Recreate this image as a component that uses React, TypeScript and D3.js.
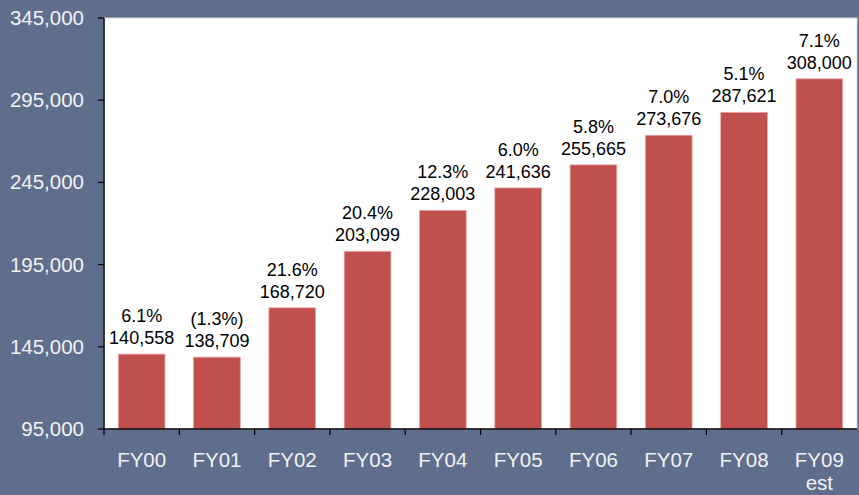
import React from "react";
import * as d3 from "d3";

const categories = ["FY00", "FY01", "FY02", "FY03", "FY04", "FY05", "FY06", "FY07", "FY08", "FY09"];
const subLabels = ["", "", "", "", "", "", "", "", "", "est"];
const values = [140558, 138709, 168720, 203099, 228003, 241636, 255665, 273676, 287621, 308000];
const growth = ["6.1%", "(1.3%)", "21.6%", "20.4%", "12.3%", "6.0%", "5.8%", "7.0%", "5.1%", "7.1%"];
const yTicks = [95000, 145000, 195000, 245000, 295000, 345000];

const W = 859, H = 495;
const plot = { left: 104, right: 857, top: 18, bottom: 429 };
const font = "'Liberation Sans', Arial, sans-serif";

export default function App() {
  const x = d3.scaleBand<string>().domain(categories).range([plot.left, plot.right]).paddingInner(0.38).paddingOuter(0.19);
  const band = d3.scaleBand<string>().domain(categories).range([plot.left, plot.right]);
  const y = d3.scaleLinear().domain([95000, 345000]).range([plot.bottom, plot.top]);
  const fmt = d3.format(",");
  return (
    <svg width={W} height={H} style={{ position: "absolute", left: 0, top: 0, display: "block" }} fontFamily={font}>
      <rect x={0} y={0} width={W} height={H} fill="#5f6e8c" />
      <rect x={plot.left} y={plot.top} width={plot.right - plot.left} height={plot.bottom - plot.top} fill="#ffffff" stroke="#d8d8d8" strokeWidth={1} />
      {values.map((v, i) => {
        const c = categories[i];
        const bx = x(c)!;
        const by = y(v);
        const cx = bx + x.bandwidth() / 2;
        return (
          <g key={c}>
            <rect x={bx} y={by} width={x.bandwidth()} height={plot.bottom - by} fill="#c0504d" stroke="#e8a8a6" strokeWidth={0.8} />
            <text x={cx} y={by - 32} textAnchor="middle" fontSize={18} fill="#000">{growth[i]}</text>
            <text x={cx} y={by - 10} textAnchor="middle" fontSize={18} fill="#000">{fmt(v)}</text>
          </g>
        );
      })}
      <line x1={plot.left} x2={plot.left} y1={plot.top} y2={plot.bottom} stroke="#000" strokeWidth={1.5} />
      <line x1={plot.left} x2={plot.right} y1={plot.bottom} y2={plot.bottom} stroke="#000" strokeWidth={1.5} />
      {yTicks.map((t) => (
        <g key={t}>
          <line x1={plot.left - 6} x2={plot.left} y1={y(t)} y2={y(t)} stroke="#000" strokeWidth={1.2} />
          <text x={84} y={y(t) + 7} textAnchor="end" fontSize={20.5} fill="#f2f2f2">{fmt(t)}</text>
        </g>
      ))}
      {categories.map((c, i) => (
        <g key={c}>
          <line x1={band(c)!} x2={band(c)!} y1={plot.bottom} y2={plot.bottom + 6} stroke="#000" strokeWidth={1.2} />
          <text x={band(c)! + band.bandwidth() / 2} y={467} textAnchor="middle" fontSize={20.5} fill="#f2f2f2">{c}</text>
          {subLabels[i] && (
            <text x={band(c)! + band.bandwidth() / 2} y={490} textAnchor="middle" fontSize={20.5} fill="#f2f2f2">{subLabels[i]}</text>
          )}
        </g>
      ))}
    </svg>
  );
}
